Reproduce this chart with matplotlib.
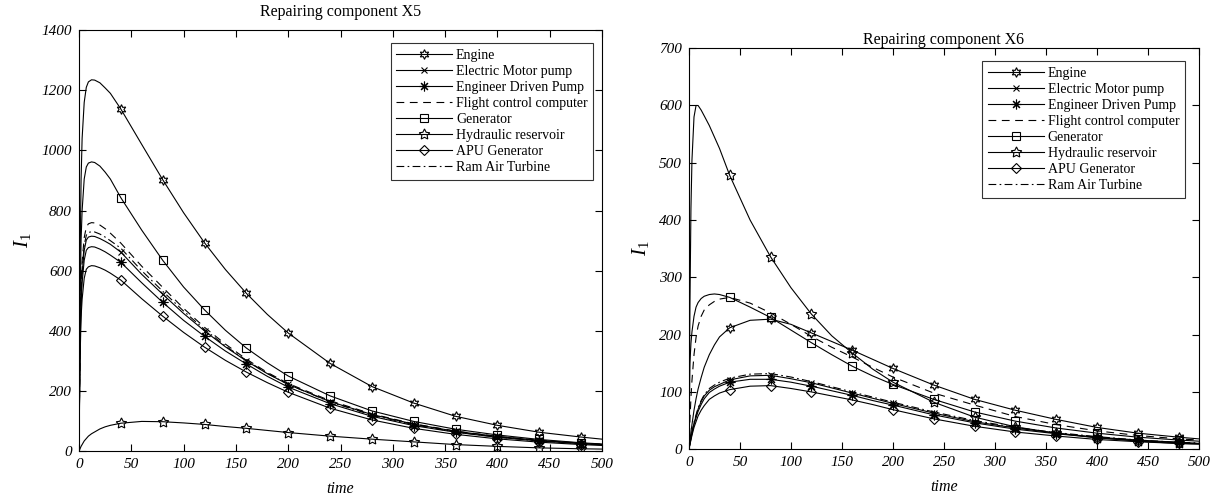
import numpy as np
import matplotlib.pyplot as plt

plt.rcParams['font.family'] = ['Liberation Serif', 'DejaVu Serif']
plt.rcParams['mathtext.fontset'] = 'custom'
plt.rcParams['mathtext.rm'] = 'Liberation Serif'
plt.rcParams['mathtext.it'] = 'Liberation Serif:italic'

# time samples
t = [0, 1, 2, 3, 5, 7, 9, 12, 15, 20, 25, 30, 40, 60, 80, 100, 120, 140, 160, 180, 200,
     240, 280, 320, 360, 400, 440, 480, 500]

labels = ['Engine', 'Electric Motor pump', 'Engineer Driven Pump',
          'Flight control computer', 'Generator', 'Hydraulic reservoir',
          'APU Generator', 'Ram Air Turbine']

# component X5
x5_engine = [0, 620, 900, 1040, 1160, 1210, 1228, 1235, 1234, 1225, 1208, 1190,
             1138, 1020, 903, 793, 693, 604, 525, 455, 393, 292, 215, 160, 116, 86, 63, 47, 40]
x5_motor = [0, 350, 515, 590, 668, 702, 712, 715, 714, 707, 698, 688,
            662, 588, 522, 458, 400, 347, 300, 258, 222, 165, 122, 90, 66, 49, 36, 26, 22]
x5_driven = [0, 335, 490, 560, 635, 668, 677, 680, 679, 672, 663, 652,
             628, 560, 495, 435, 382, 333, 290, 249, 213, 158, 116, 85, 63, 46, 34, 25, 21]
x5_flight = [0, 380, 550, 630, 710, 745, 756, 760, 759, 752, 740, 725,
             692, 615, 545, 475, 412, 356, 306, 262, 225, 168, 124, 91, 67, 49, 36, 27, 23]
x5_generator = [0, 480, 700, 800, 905, 945, 958, 962, 960, 948, 928, 905,
                843, 735, 635, 546, 470, 402, 343, 294, 250, 184, 134, 99, 73, 54, 39, 28, 24]
x5_hydraulic = [0, 8, 16, 22, 34, 42, 50, 58, 64, 74, 81, 86,
                93, 99, 98, 94, 89, 82, 76, 69, 62, 50, 40, 31, 22, 16, 11, 8, 7]
x5_apu = [0, 300, 445, 505, 575, 605, 613, 617, 616, 610, 602, 592,
          569, 507, 449, 395, 346, 302, 263, 228, 196, 143, 104, 76, 56, 41, 30, 22, 19]
x5_ram = [0, 360, 530, 605, 685, 718, 727, 730, 729, 722, 712, 700,
          675, 600, 532, 466, 405, 350, 302, 259, 222, 164, 120, 88, 64, 47, 34, 25, 22]

# component X6
x6_engine = [0, 15, 30, 43, 68, 88, 105, 125, 143, 165, 182, 196,
             212, 225, 227, 218, 203, 188, 173, 157, 141, 112, 87, 68, 52, 38, 28, 21, 18]
x6_motor = [0, 10, 20, 29, 45, 58, 70, 83, 93, 103, 109, 113,
            121, 128, 129, 123, 116, 107, 98, 89, 80, 63, 48, 37, 28, 21, 16, 12, 10]
x6_driven = [0, 9, 18, 27, 43, 55, 66, 78, 88, 99, 105, 110,
             117, 122, 122, 117, 110, 102, 94, 85, 77, 60, 46, 35, 27, 20, 15, 11, 10]
x6_flight = [0, 50, 90, 120, 165, 195, 215, 232, 243, 252, 258, 262,
             265, 255, 238, 218, 197, 178, 161, 143, 126, 98, 77, 57, 43, 32, 24, 18, 16]
x6_generator = [0, 150, 185, 205, 232, 248, 256, 263, 267, 270, 271, 270,
                265, 248, 230, 208, 186, 165, 145, 128, 113, 87, 65, 49, 37, 28, 21, 16, 14]
x6_hydraulic = [0, 250, 420, 505, 580, 600, 600, 592, 582, 565, 545, 525,
                478, 400, 336, 282, 236, 198, 168, 140, 117, 82, 56, 39, 28, 20, 14, 10, 9]
x6_apu = [0, 8, 16, 24, 38, 48, 58, 68, 76, 87, 93, 98,
          104, 110, 111, 106, 100, 93, 86, 78, 69, 53, 40, 30, 23, 17, 13, 10, 9]
x6_ram = [0, 10, 20, 30, 47, 60, 72, 85, 95, 106, 112, 117,
          124, 131, 132, 126, 118, 109, 100, 91, 82, 65, 50, 38, 29, 22, 16, 12, 11]

marker_t = [40, 80, 120, 160, 200, 240, 280, 320, 360, 400, 440, 480]
mk = list(np.flatnonzero(np.isin(t, marker_t)))

styles = [
    dict(ls='-', marker=(6, 1, 0), ms=7),
    dict(ls='-', marker='x', ms=5),
    dict(ls='-', marker=(8, 2, 0), ms=7),
    dict(ls=(0, (7, 5)), marker=None),
    dict(ls='-', marker='s', ms=6),
    dict(ls='-', marker=(5, 1, 0), ms=8),
    dict(ls='-', marker='D', ms=5),
    dict(ls=(0, (7, 3, 1.5, 3)), marker=None),
]

fig = plt.figure(figsize=(12.15, 4.98), dpi=100)
ax1 = fig.add_axes([0.065, 0.094, 0.4305, 0.8454])
ax2 = fig.add_axes([0.567, 0.098, 0.4198, 0.8052])

panels = [
    (ax1, [x5_engine, x5_motor, x5_driven, x5_flight, x5_generator, x5_hydraulic, x5_apu, x5_ram],
     'Repairing component X5', 1400, 200, 10, (0.983, 0.969)),
    (ax2, [x6_engine, x6_motor, x6_driven, x6_flight, x6_generator, x6_hydraulic, x6_apu, x6_ram],
     'Repairing component X6', 700, 100, 3, (0.9725, 0.9676)),
]

xt = np.arange(0, 501, 50)
for ax, series, title, ymax, ystep, tpad, anchor in panels:
    for y, lab, st in zip(series, labels, styles):
        ax.plot(t, y, color='black', lw=0.8, ls=st['ls'], marker=st['marker'],
                ms=st.get('ms', 6), mfc='none', mec='black', mew=0.8,
                markevery=mk, label=lab)
    ax.set_xlim(0, 500)
    ax.set_ylim(0, ymax)
    yt = np.arange(0, ymax + 1, ystep)
    ax.set_xticks(xt)
    ax.set_xticklabels([str(v) for v in xt], fontstyle='italic')
    ax.set_yticks(yt)
    ax.set_yticklabels([str(v) for v in yt], fontstyle='italic')
    ax.tick_params(direction='in', top=True, right=True, length=5, width=0.8,
                   labelsize=11, pad=5)
    for sp in ax.spines.values():
        sp.set_linewidth(0.8)
    ax.set_title(title, fontsize=11.5, pad=tpad)
    ax.set_xlabel('time', fontsize=11.5, fontstyle='italic', labelpad=7)
    ax.set_ylabel(r'$\mathit{I}_{\mathit{1}}$', fontsize=15, labelpad=6)
    leg = ax.legend(loc='upper right', bbox_to_anchor=anchor, borderaxespad=0,
                    fontsize=10, frameon=True, fancybox=False, edgecolor='black',
                    handlelength=4, handletextpad=0.3, labelspacing=0.22,
                    borderpad=0.4, numpoints=1)
    leg.get_frame().set_linewidth(0.8)

fig.savefig('out.png', dpi=100)
